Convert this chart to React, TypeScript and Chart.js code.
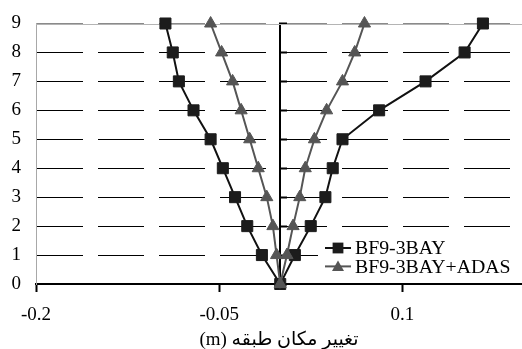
import { useEffect, useRef } from 'react';
import { Chart, registerables } from 'chart.js';

Chart.register(...registerables);

// Story levels traced as one V-shaped curve (left envelope down to 0, then right envelope up)
const stories = [9, 8, 7, 6, 5, 4, 3, 2, 1, 0, 1, 2, 3, 4, 5, 6, 7, 8, 9];
const bf9Disp = [-0.094, -0.088, -0.083, -0.071, -0.057, -0.047, -0.037, -0.027, -0.015, 0, 0.012, 0.025, 0.037, 0.043, 0.051, 0.081, 0.119, 0.151, 0.166];
const adasDisp = [-0.057, -0.048, -0.039, -0.032, -0.025, -0.018, -0.011, -0.006, -0.003, 0, 0.0055, 0.0105, 0.016, 0.0205, 0.028, 0.038, 0.051, 0.061, 0.069];
const seriesNames = ['BF9-3BAY', 'BF9-3BAY+ADAS'];
const xTicks = [-0.2, -0.05, 0.1];
const xTitle = 'تغییر مکان طبقه (m)';

const FONT = "'Liberation Serif', 'Times New Roman', 'DejaVu Sans', serif";

const boxLegend = {
  id: 'boxLegend',
  afterDatasetsDraw(chart: any) {
    const { ctx, chartArea } = chart;
    const boxLeft = chartArea.right - 204;
    const boxTop = chartArea.bottom - 52;
    ctx.save();
    ctx.fillStyle = '#ffffff';
    ctx.fillRect(boxLeft, boxTop, chartArea.right - boxLeft, 49);
    chart.data.datasets.forEach((ds: any, i: number) => {
      const cy = boxTop + 16 + i * 18.4;
      const x0 = boxLeft + 7;
      const x1 = boxLeft + 33;
      const cx = (x0 + x1) / 2;
      ctx.strokeStyle = ds.borderColor;
      ctx.lineWidth = 2;
      ctx.beginPath();
      ctx.moveTo(x0, cy);
      ctx.lineTo(x1, cy);
      ctx.stroke();
      ctx.fillStyle = ds.pointBackgroundColor;
      ctx.beginPath();
      if (ds.pointStyle === 'rect') {
        ctx.rect(cx - 5.4, cy - 5.4, 10.8, 10.8);
      } else {
        ctx.moveTo(cx, cy - 6);
        ctx.lineTo(cx + 6, cy + 4.5);
        ctx.lineTo(cx - 6, cy + 4.5);
        ctx.closePath();
      }
      ctx.fill();
      ctx.fillStyle = '#000';
      ctx.font = `19.8px ${FONT}`;
      ctx.textBaseline = 'middle';
      ctx.textAlign = 'left';
      ctx.fillText(ds.label, boxLeft + 37, cy + 1);
    });
    ctx.restore();
  },
};

const topFrame = {
  id: 'topFrame',
  beforeDatasetsDraw(chart: any) {
    const { ctx, chartArea } = chart;
    ctx.save();
    ctx.strokeStyle = '#b4b4b4';
    ctx.lineWidth = 1;
    ctx.beginPath();
    ctx.moveTo(chartArea.left, Math.round(chartArea.top) + 0.5);
    ctx.lineTo(chartArea.right, Math.round(chartArea.top) + 0.5);
    ctx.stroke();
    ctx.restore();
  },
};

const zeroPad = (s: any) => {
  s.paddingLeft = 0;
  s.paddingRight = 0;
  s.paddingTop = 0;
  s.paddingBottom = 0;
};

export default function App() {
  const ref = useRef<HTMLCanvasElement | null>(null);

  useEffect(() => {
    document.body.style.margin = '0';
    const canvas = ref.current;
    if (!canvas) return;
    const chart = new Chart(canvas, {
      type: 'scatter',
      data: {
        datasets: [
          {
            label: seriesNames[0],
            data: stories.map((s, i) => ({ x: bf9Disp[i], y: s })),
            showLine: true,
            clip: false,
            borderColor: '#111111',
            borderWidth: 2,
            backgroundColor: '#1c1c1c',
            pointStyle: 'rect',
            pointRadius: 7.8,
            pointBorderWidth: 1,
            pointBorderColor: '#1c1c1c',
            pointBackgroundColor: '#1c1c1c',
            order: 2,
          },
          {
            label: seriesNames[1],
            data: stories.map((s, i) => ({ x: adasDisp[i], y: s })),
            showLine: true,
            clip: false,
            borderColor: '#555555',
            borderWidth: 2,
            backgroundColor: '#555555',
            pointStyle: 'triangle',
            pointRadius: 7,
            pointBorderWidth: 1,
            pointBorderColor: '#555555',
            pointBackgroundColor: '#555555',
            order: 1,
          },
        ],
      },
      options: {
        animation: false,
        responsive: false,
        devicePixelRatio: 1,
        layout: { autoPadding: false, padding: { top: 23.5, left: 0, right: 0, bottom: 0 } },
        plugins: { legend: { display: false }, tooltip: { enabled: false } },
        scales: {
          x: {
            type: 'linear',
            position: 'bottom',
            min: -0.2,
            max: 0.198,
            afterBuildTicks: (s: any) => {
              s.ticks = xTicks.map((v) => ({ value: v }));
            },
            ticks: {
              color: '#000',
              font: { family: FONT, size: 19 },
              padding: 12,
              maxRotation: 0,
              autoSkip: false,
              callback: (v: any) => String(v),
            },
            grid: {
              drawOnChartArea: false,
              drawTicks: true,
              tickLength: 8,
              tickWidth: 2,
              tickColor: '#000',
            },
            border: { display: true, color: '#000', width: 2 },
            title: {
              display: true,
              text: '\u202B' + xTitle + '\u202C',
              color: '#000',
              font: { family: FONT, size: 19 },
              padding: { top: 0, bottom: -2.5 },
            },
            afterFit: (s: any) => {
              s.height = 65;
              zeroPad(s);
            },
          },
          y: {
            type: 'linear',
            position: 'left',
            min: 0,
            max: 9,
            ticks: {
              stepSize: 1,
              color: '#000',
              font: { family: FONT, size: 19 },
              padding: 15,
            },
            grid: {
              color: (c: any) =>
                c.tick && c.tick.value === 9 ? '#8a8a8a' : c.tick && c.tick.value === 0 ? 'rgba(0,0,0,0)' : '#000',
              lineWidth: 1,
              drawTicks: false,
            },
            border: { display: true, color: '#a8a8a8', width: 1, dash: [46, 15] },
            afterFit: (s: any) => {
              s.width = 36;
              zeroPad(s);
            },
          },
          y0: {
            type: 'linear',
            axis: 'y',
            position: { x: 0 },
            min: 0,
            max: 9,
            ticks: { display: false, stepSize: 1 },
            grid: {
              drawOnChartArea: false,
              drawTicks: true,
              tickLength: -8,
              tickWidth: 2,
              tickColor: '#000',
            },
            border: { display: true, color: '#000', width: 2 },
            afterFit: (s: any) => {
              s.width = 0;
              zeroPad(s);
            },
          },
        },
      } as any,
      plugins: [topFrame, boxLegend],
    });
    return () => chart.destroy();
  }, []);

  return (
    <div style={{ position: 'fixed', left: 0, top: 0, width: 522, height: 349, background: '#fff' }}>
      <canvas ref={ref} width={522} height={349} style={{ width: 522, height: 349, display: 'block' }} />
    </div>
  );
}
